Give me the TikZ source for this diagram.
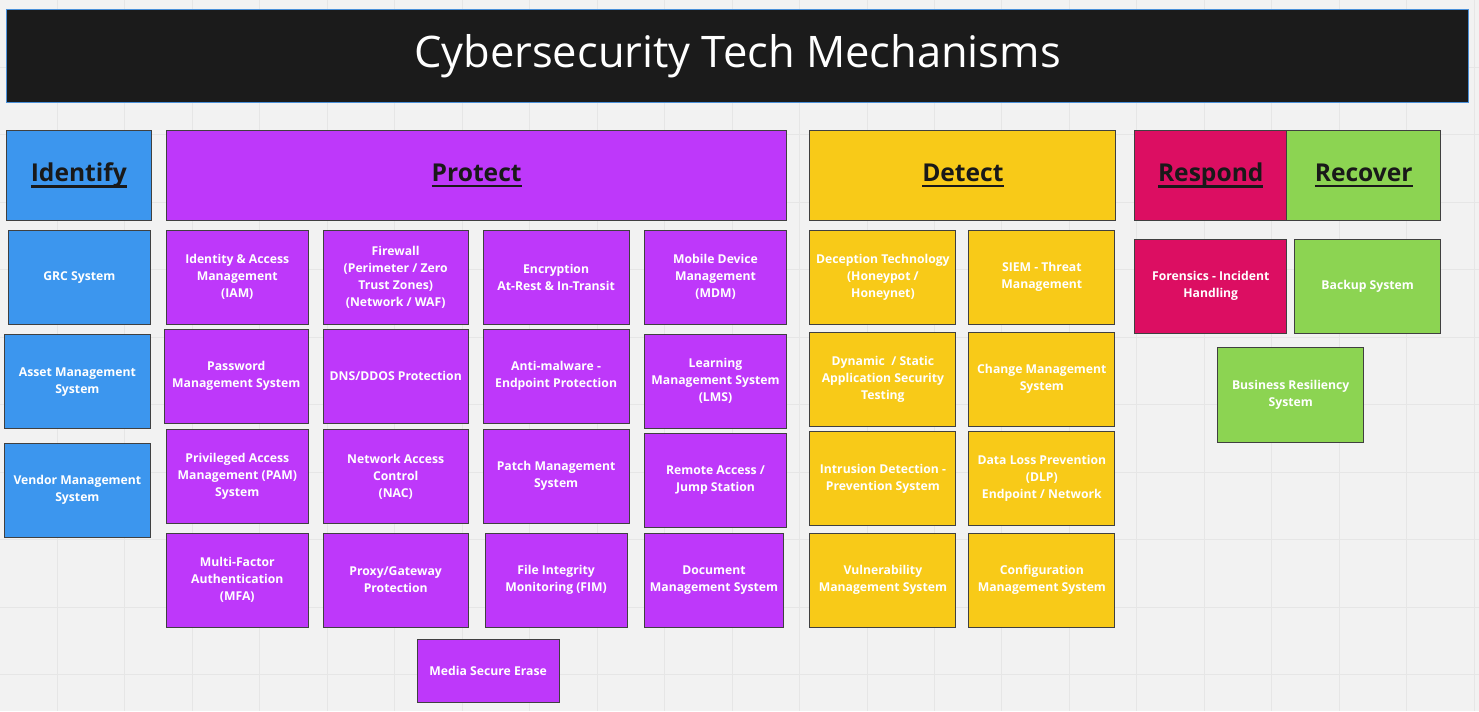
\documentclass[tikz,border=0pt]{standalone}
\usepackage{fontspec}
\setmainfont{Open Sans}
\usetikzlibrary{positioning}
\definecolor{PageGrey}{RGB}{242,242,242}
\definecolor{GridGrey}{RGB}{230,230,230}
\definecolor{TitleBlack}{RGB}{27,27,27}
\definecolor{TitleEdge}{RGB}{74,144,217}
\definecolor{IdBlue}{RGB}{60,150,238}
\definecolor{PrPurple}{RGB}{190,56,250}
\definecolor{DtYellow}{RGB}{248,202,24}
\definecolor{RsPink}{RGB}{220,14,98}
\definecolor{RcGreen}{RGB}{140,212,82}
\newcommand{\headul}[1]{\setbox0\hbox{#1}\dp0=0pt\vtop{\box0\kern3.5pt\hrule height 2.4pt}}

\begin{document}
\begin{tikzpicture}[x=1pt,y=-1pt,
      cell/.style={draw=black!75,line width=1pt,minimum width=142pt,minimum height=94pt,inner sep=2pt,align=center,text=white,font=\fontsize{12.2}{17}\selectfont\bfseries},
      idcell/.style={cell,fill=IdBlue},
      prcell/.style={cell,fill=PrPurple},
      dtcell/.style={cell,fill=DtYellow},
      rscell/.style={cell,fill=RsPink},
      rccell/.style={cell,fill=RcGreen},
      head/.style={draw=black!75,line width=1pt,minimum height=90pt,inner sep=0pt,text=black!90,font=\fontsize{24.6}{30}\selectfont\bfseries}
    ]
      % page and faint grid
      \fill[PageGrey] (0,0) rectangle (1479,711);
      \foreach \gx in {57,124.5,...,1479} \draw[GridGrey,line width=0.8pt] (\gx,0) -- (\gx,711);
      \foreach \gy in {67,134.5,...,711} \draw[GridGrey,line width=0.8pt] (0,\gy) -- (1479,\gy);

      \node[draw=TitleEdge,line width=1.5pt,fill=TitleBlack,minimum width=1463pt,minimum height=93pt,text=white,font=\fontsize{43.5}{50}\selectfont]
        (title) at (737.5,55.5) {Cybersecurity Tech Mechanisms};

      % function headers
      \node[head,fill=IdBlue,minimum width=145pt] (identify) at (78.5,175) {\headul{Identify}};
      \node[head,fill=PrPurple,minimum width=621pt] (protect) at (476.5,175) {\headul{Protect}};
      \node[head,fill=DtYellow,minimum width=306pt] (detect) at (963,175) {\headul{Detect}};
      \node[head,fill=RsPink,minimum width=152pt] (respond) at (1211,175) {\headul{Respond}};
      \node[head,fill=RcGreen,minimum width=154pt] (recover) at (1364,175) {\headul{Recover}};

      % identify
      \node[idcell] (grc) at (79,277) {GRC System};
      \node[idcell,minimum width=146pt] (asset) at (77,381.5) {Asset Management\\System};
      \node[idcell,minimum width=146pt] (vendor) at (77,490) {Vendor Management\\System};

      % protect
      \node[prcell] (iam) at (237,277) {Identity \& Access\\Management\\(IAM)};
      \node[prcell,minimum width=144pt] (pwd) at (236,376) {Password\\Management System};
      \node[prcell] (pam) at (237,476.5) {Privileged Access\\Management (PAM)\\System};
      \node[prcell] (mfa) at (237,580) {Multi-Factor\\Authentication\\(MFA)};

      \node[prcell,minimum width=145pt] (fw) at (395.5,277) {Firewall\\(Perimeter / Zero\\Trust Zones)\\(Network / WAF)};
      \node[prcell,minimum width=145pt] (dns) at (395.5,376) {DNS/DDOS Protection};
      \node[prcell,minimum width=145pt] (nac) at (395.5,476.5) {Network Access\\Control\\(NAC)};
      \node[prcell,minimum width=145pt] (proxy) at (395.5,580) {Proxy/Gateway\\Protection};

      \node[prcell,minimum width=146pt] (enc) at (556,277) {Encryption\\At-Rest \& In-Transit};
      \node[prcell,minimum width=146pt] (amw) at (556,376) {Anti-malware -\\Endpoint Protection};
      \node[prcell,minimum width=146pt] (patch) at (556,476) {Patch Management\\System};
      \node[prcell] (fim) at (556,580) {File Integrity\\Monitoring (FIM)};

      \node[prcell,minimum width=143pt] (mdm) at (715.5,277) {Mobile Device\\Management\\(MDM)};
      \node[prcell,minimum width=143pt] (lms) at (715.5,381) {Learning\\Management System\\(LMS)};
      \node[prcell,minimum width=143pt] (jump) at (715.5,480) {Remote Access /\\Jump Station};
      \node[prcell,minimum width=140pt] (doc) at (714,580) {Document\\Management System};

      \node[prcell,minimum height=63pt] (erase) at (488,670.5) {Media Secure Erase};

      % detect
      \node[dtcell,minimum width=146pt] (decep) at (883,277) {Deception Technology\\(Honeypot /\\Honeynet)};
      \node[dtcell,minimum width=146pt] (sast) at (883,379) {Dynamic~ / Static\\Application Security\\Testing};
      \node[dtcell,minimum width=146pt] (ids) at (883,478.5) {Intrusion Detection -\\Prevention System};
      \node[dtcell,minimum width=146pt] (vuln) at (883,580) {Vulnerability\\Management System};

      \node[dtcell,minimum width=146pt] (siem) at (1042,277) {SIEM - Threat\\Management};
      \node[dtcell,minimum width=146pt] (chg) at (1042,379) {Change Management\\System};
      \node[dtcell,minimum width=146pt] (dlp) at (1042,478.5) {Data Loss Prevention\\(DLP)\\Endpoint / Network};
      \node[dtcell,minimum width=146pt] (cfg) at (1042,580) {Configuration\\Management System};

      % respond / recover
      \node[rscell,minimum width=152pt] (foren) at (1211,286) {Forensics - Incident\\Handling};
      \node[rccell,minimum width=146pt] (backup) at (1368,286) {Backup System};
      \node[rccell,minimum width=146pt,minimum height=95pt] (bcp) at (1291,394.5) {Business Resiliency\\System};
    \end{tikzpicture}
\end{document}
